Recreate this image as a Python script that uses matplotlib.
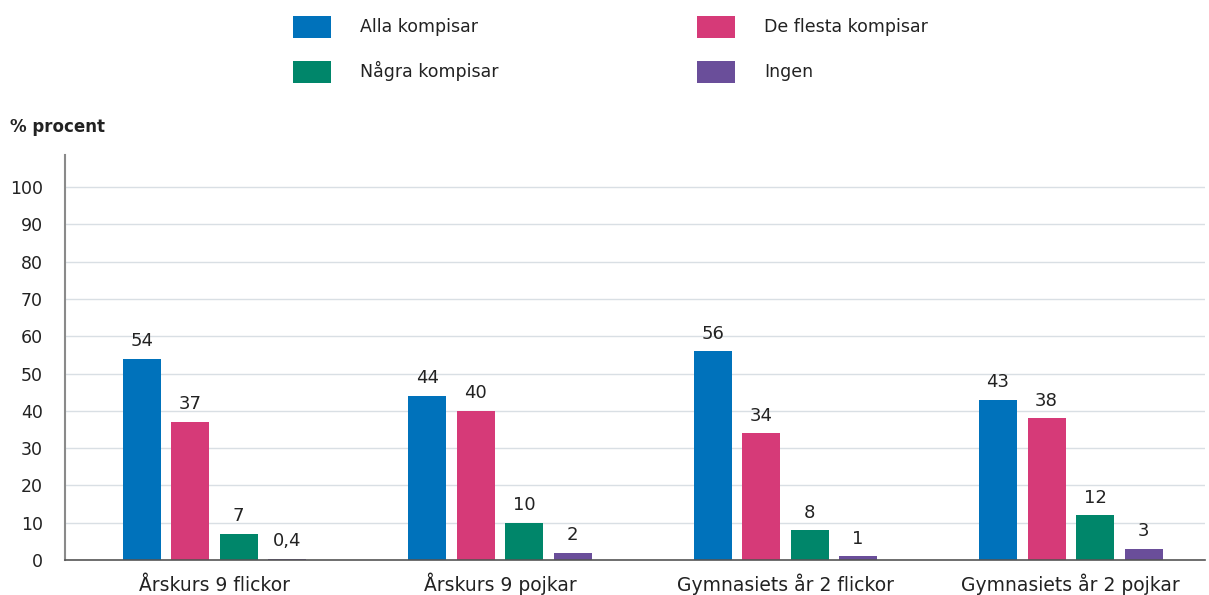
import numpy as np
import matplotlib.pyplot as plt
from matplotlib.patches import Patch

# Data
groups = ['Årskurs 9 flickor', 'Årskurs 9 pojkar', 'Gymnasiets år 2 flickor', 'Gymnasiets år 2 pojkar']
series = ['Alla kompisar', 'De flesta kompisar', 'Några kompisar', 'Ingen']
alla = [54, 44, 56, 43]
flesta = [37, 40, 34, 38]
nagra = [7, 10, 8, 12]
ingen = [0.4, 2, 1, 3]
labels_alla = ['54', '44', '56', '43']
labels_flesta = ['37', '40', '34', '38']
labels_nagra = ['7', '10', '8', '12']
labels_ingen = ['0,4', '2', '1', '3']

colors = ['#0072BB', '#D63A78', '#00866A', '#6A4E9A']

plt.rcParams['font.family'] = ['DejaVu Sans']

fig = plt.figure(figsize=(12.09, 5.95), dpi=100)
ax = fig.add_axes([65 / 1209, 35 / 595, 1140 / 1209, 405 / 595])

x = np.arange(len(groups))
step = 0.170
width = 0.133
all_vals = [alla, flesta, nagra, ingen]
all_labels = [labels_alla, labels_flesta, labels_nagra, labels_ingen]
for k, (vals, labs) in enumerate(zip(all_vals, all_labels)):
    pos = x + (k - 1.5) * step
    ax.bar(pos, vals, width=width, color=colors[k], zorder=3)
    for px, v, lab in zip(pos, vals, labs):
        ax.text(px, v + 2.3, lab, ha='center', va='bottom', fontsize=13, color='#222222')

ax.set_xlim(-0.5236, 3.47)
ax.set_ylim(0, 108.6)
ax.set_yticks(range(0, 101, 10))
ax.set_xticks(x)
ax.set_xticklabels(groups)
ax.tick_params(axis='y', length=0, pad=16, labelsize=12.5, colors='#222222')
ax.tick_params(axis='x', length=0, pad=22.5, labelsize=13.5, colors='#222222')
for lbl in ax.get_xticklabels():
    lbl.set_verticalalignment('baseline')
ax.grid(axis='y', color='#d9dfe4', linewidth=1, zorder=0)
for s in ['top', 'right']:
    ax.spines[s].set_visible(False)
ax.spines['left'].set_color('#8a8a8a')
ax.spines['left'].set_linewidth(1.5)
ax.spines['bottom'].set_color('#555555')
ax.spines['bottom'].set_linewidth(1.2)
ax.spines['bottom'].set_zorder(4)

fig.text(10 / 1209, 1 - 127 / 595, '% procent', fontsize=12, fontweight='bold',
         ha='left', va='center', color='#222222')

# Legend (column-wise order)
order = [0, 2, 1, 3]
handles = [Patch(facecolor=colors[i], label=series[i]) for i in order]
fig.legend(handles=handles, ncol=2, loc='upper left',
           bbox_to_anchor=(277 / 1209, 1 - 0 / 595), frameon=False,
           fontsize=12.5, handlelength=2.2, handleheight=1.6,
           handletextpad=1.7, columnspacing=11.4, labelspacing=1.3,
           labelcolor='#222222')

fig.savefig('out.png', dpi=100)
